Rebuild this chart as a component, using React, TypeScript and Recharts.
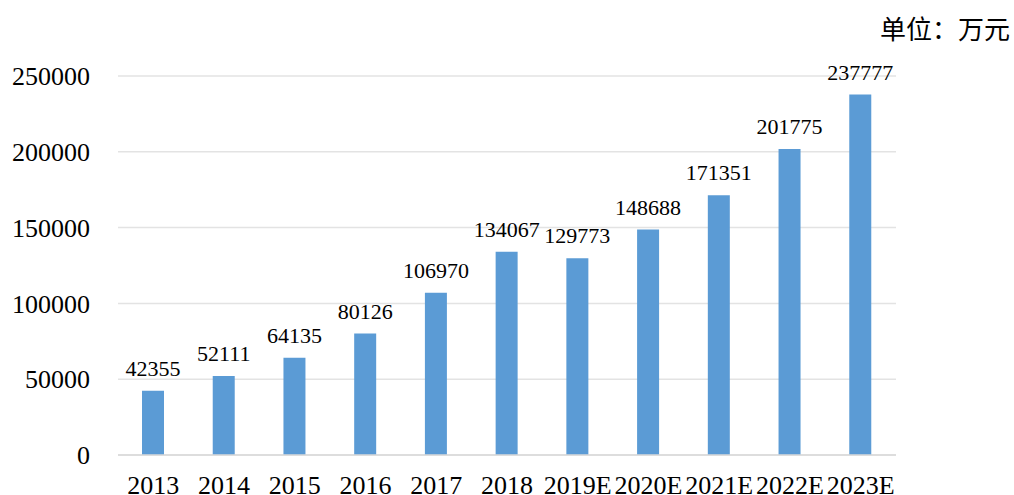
import React from 'react';
import { BarChart, Bar, XAxis, YAxis, CartesianGrid, LabelList } from 'recharts';

const years = ['2013', '2014', '2015', '2016', '2017', '2018', '2019E', '2020E', '2021E', '2022E', '2023E'];
const revenue = [42355, 52111, 64135, 80126, 106970, 134067, 129773, 148688, 171351, 201775, 237777];
const yTicks = [0, 50000, 100000, 150000, 200000, 250000];

const data = years.map((year, i) => ({ year, value: revenue[i] }));

const font = '"Liberation Serif", "Times New Roman", serif';

const App: React.FC = () => {
  return (
    <div
      style={{
        position: 'absolute',
        left: 0,
        top: 0,
        width: 1014,
        height: 495,
        background: '#fff',
        fontFamily: font,
      }}
    >
      <div
        style={{
          position: 'absolute',
          right: 4,
          top: 12,
          fontFamily: '"Noto Sans CJK SC", sans-serif',
          fontSize: 26,
          lineHeight: '32px',
          color: '#000',
        }}
      >
        单位：万元
      </div>
      <BarChart
        width={1014}
        height={495}
        data={data}
        margin={{ top: 76, right: 118, left: 0, bottom: 0 }}
        barCategoryGap="0%"
        style={{ fontFamily: font }}
      >
        <CartesianGrid vertical={false} stroke="#e3e3e3" strokeWidth={1.5} />
        <XAxis
          dataKey="year"
          axisLine={{ stroke: '#d9d9d9', strokeWidth: 1.5 }}
          tickLine={false}
          tickSize={0}
          tickMargin={21}
          interval={0}
          height={40}
          tick={{ fill: '#000', fontSize: 26, fontFamily: font }}
        />
        <YAxis
          domain={[0, 250000]}
          ticks={yTicks}
          axisLine={false}
          tickLine={false}
          tickSize={0}
          tickMargin={28}
          width={118}
          tick={{ fill: '#000', fontSize: 26, fontFamily: font }}
        />
        <Bar dataKey="value" fill="#5B9BD5" barSize={22} isAnimationActive={false}>
          <LabelList
            dataKey="value"
            position="top"
            offset={15}
            fill="#000"
            fontSize={22}
            fontFamily={font}
          />
        </Bar>
      </BarChart>
    </div>
  );
};

export default App;
